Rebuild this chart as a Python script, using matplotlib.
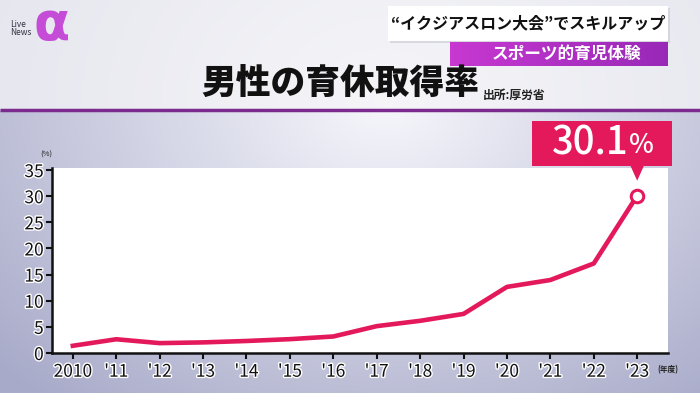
import numpy as np
import matplotlib
matplotlib.use("Agg")
import matplotlib.pyplot as plt
import matplotlib.patheffects as pe
from matplotlib.patches import Rectangle, Polygon
from matplotlib.transforms import ScaledTranslation

plt.rcParams['font.family'] = ['Noto Sans CJK JP', 'DejaVu Sans']

# データ (厚労省 男性の育休取得率)
years = [2010, 2011, 2012, 2013, 2014, 2015, 2016, 2017, 2018, 2019, 2020, 2021, 2022, 2023]
rate = [1.38, 2.63, 1.89, 2.03, 2.30, 2.65, 3.16, 5.14, 6.16, 7.48, 12.65, 13.97, 17.13, 30.1]
tick_labels = ['2010', "'11", "'12", "'13", "'14", "'15", "'16", "'17", "'18", "'19",
               "'20", "'21", "'22", "'23"]
yticks = [0, 5, 10, 15, 20, 25, 30, 35]

PINK = '#e3195c'
PURPLE = '#7b2a8e'
W, H = 700, 393

fig = plt.figure(figsize=(7, 3.93), dpi=100)

# 背景グラデーション
bg = fig.add_axes([0, 0, 1, 1])
bg.set_axis_off()
yy, xx = np.mgrid[0:1:200j, 0:1:350j]
dist = np.sqrt(((xx - 0.55) / 0.75) ** 2 + ((yy - 0.25) / 1.0) ** 2)
shade = np.clip(dist, 0, 1)
c0 = np.array([0.97, 0.97, 0.99])
c1 = np.array([0.66, 0.67, 0.79])
img = c0[None, None, :] * (1 - shade[..., None]) + c1[None, None, :] * shade[..., None]
img[yy < 0.28] = img[yy < 0.28] * 0.25 + np.array([0.96, 0.96, 0.97]) * 0.75
bg.imshow(img, extent=[0, 1, 0, 1], aspect='auto', origin='upper')
bg.set_xlim(0, 1)
bg.set_ylim(0, 1)


def px(x0, y0, x1, y1):
    # ピクセル座標(左上原点) -> 図座標の extent
    return [x0 / W, x1 / W, 1 - y1 / H, 1 - y0 / H]


# 紫の区切り線
bg.plot([0, 1], [1 - 110 / H, 1 - 110 / H], color=PURPLE, lw=2.5, solid_capstyle='butt')

# ロゴ
fig.text(0.074, 0.937, 'α', fontsize=38, color='#c23bd4', ha='center', va='center',
         family='DejaVu Sans', fontweight='bold', alpha=0.9)
fig.text(0.014, 0.928, 'Live\nNews', fontsize=6, color='#333344', ha='left', va='center',
         linespacing=0.9, zorder=5)

# 見出し
bg.add_patch(Rectangle((388 / W + 0.003, 1 - 41 / H - 0.006), 280 / W, 35 / H,
                       fc='#c8c8d4', ec='none', alpha=0.6))
bg.add_patch(Rectangle((388 / W, 1 - 41 / H), 280 / W, 35 / H, fc='white', ec='none'))
fig.text(528 / W, 1 - 23 / H, '“イクジアスロン大会”でスキルアップ', fontsize=11.5,
         fontweight='bold', ha='center', va='center', color='#111111')
box_grad = np.linspace(0, 1, 60)[None, :, None]
box_img = np.array([0.78, 0.22, 0.82]) * (1 - box_grad) + np.array([0.60, 0.16, 0.72]) * box_grad
bg.imshow(box_img, extent=px(450, 42, 668, 66), aspect='auto', zorder=2)
fig.text(567 / W, 1 - 54 / H, 'スポーツ的育児体験', fontsize=12, fontweight='bold',
         ha='center', va='center', color='white')

fig.text(0.486, 0.785, '男性の育休取得率', fontsize=25, fontweight='black',
         ha='center', va='center', color='#111111')
fig.text(0.69, 0.757, '出所:厚労省', fontsize=8.5, fontweight='bold',
         ha='left', va='center', color='#222222')

# グラフ
ax = fig.add_axes([52 / W, 1 - 353 / H, 616 / W, 185 / H])
ax.set_facecolor('white')
ax.plot(years, rate, color=PINK, lw=3.3, solid_joinstyle='round', zorder=3)
ax.plot(years[-1], rate[-1], 'o', ms=9, mfc='white', mec=PINK, mew=2.2, zorder=4)

ax.set_xlim(2009.52, 2023.71)
ax.set_ylim(0, 35.4)
ax.set_xticks(years)
ax.set_xticklabels(tick_labels)
ax.set_yticks(yticks)
for s in ['top', 'right']:
    ax.spines[s].set_visible(False)
for s in ['left', 'bottom']:
    ax.spines[s].set_linewidth(1.8)
    ax.spines[s].set_color('#111111')
ax.tick_params(axis='both', length=4, width=1.5, color='#111111',
               labelsize=12.5, labelcolor='#111111')
ax.tick_params(axis='y', pad=2)
ax.tick_params(axis='x', pad=3)
for lab in ax.get_xticklabels() + ax.get_yticklabels():
    lab.set_path_effects([pe.withStroke(linewidth=2, foreground='white')])

ax.text(-0.01, 1.07, '(%)', transform=ax.transAxes, fontsize=5.5, ha='center', va='center',
        color='#222222')
ax.text(1.0, -0.09, '(年度)', transform=ax.transAxes, fontsize=5.5, fontweight='bold',
        ha='center', va='center', color='#222222')

# 吹き出し
anchor = fig.dpi_scale_trans + ScaledTranslation(years[-1], rate[-1], ax.transData)
ax.add_patch(Rectangle((-1.05, 0.30), 1.40, 0.45, transform=anchor, fc=PINK, ec='none',
                       clip_on=False, zorder=5))
ax.add_patch(Polygon([[-0.07, 0.305], [0.07, 0.305], [0.0, 0.15]], transform=anchor,
                     fc=PINK, ec='none', clip_on=False, zorder=5))
ax.text(-0.09, 0.525, '30.1', transform=anchor, fontsize=27.5, fontweight='medium',
        color='white', ha='right', va='center', zorder=6)
ax.text(-0.08, 0.505, '%', transform=anchor, fontsize=19, fontweight='medium',
        color='white', ha='left', va='center', zorder=6)

fig.savefig('out.png', dpi=100)
